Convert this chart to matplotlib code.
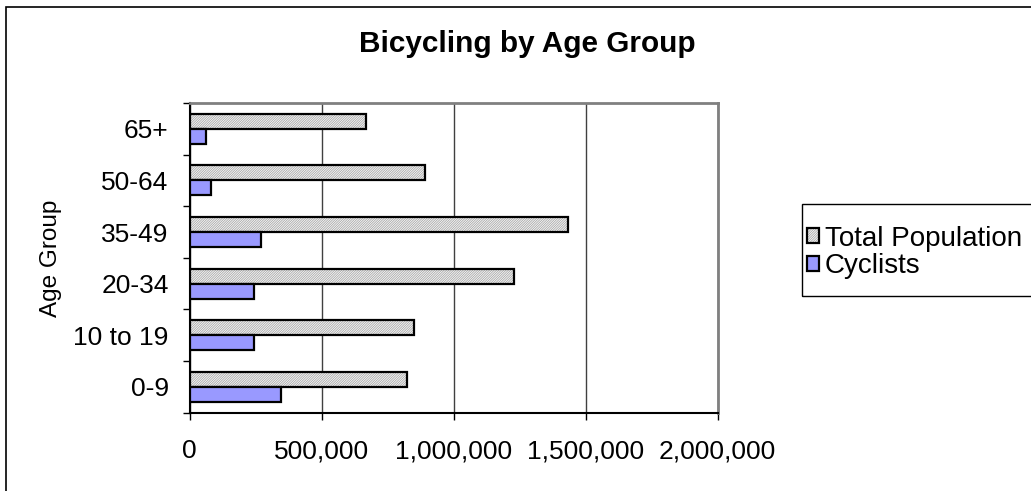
import numpy as np
import matplotlib
matplotlib.use('Agg')
from matplotlib import pyplot as plt
from matplotlib.patches import Rectangle
from matplotlib.ticker import FuncFormatter, FixedLocator
from matplotlib.legend_handler import HandlerTuple

plt.rcParams['font.family'] = ['Liberation Sans', 'DejaVu Sans']
plt.rcParams['hatch.linewidth'] = 0.5

# Data
age_groups = ['0-9', '10 to 19', '20-34', '35-49', '50-64', '65+']
total_population = [825000, 850000, 1227000, 1433000, 890000, 667000]
cyclists = [345000, 245000, 245000, 272000, 80000, 61000]
x_ticks = [0, 500000, 1000000, 1500000, 2000000]

fig = plt.figure(figsize=(10.31, 4.91), dpi=100)
ax = fig.add_axes([189.5 / 1031, 1 - 412.7 / 491, 528.2 / 1031, 309.7 / 491])

y = np.arange(len(age_groups))
h = 0.29

# hatched fill for total population, then black outline on top
hatch_bars = ax.barh(y + h / 2, total_population, height=h, color='#f4f4f4',
                     edgecolor='#a0a0a0', linewidth=0, hatch='/' * 14, zorder=3)
outline_bars = ax.barh(y + h / 2, total_population, height=h, fill=False,
                       edgecolor='black', linewidth=1.6, zorder=4)
cyc_bars = ax.barh(y - h / 2, cyclists, height=h, color='#9999ff',
                   edgecolor='black', linewidth=1.6, zorder=4)

ax.set_xlim(0, 2000000)
ax.set_ylim(-0.5, len(age_groups) - 0.5)

ax.xaxis.set_major_locator(FixedLocator(x_ticks))
ax.xaxis.set_major_formatter(FuncFormatter(lambda v, p: f'{int(v):,}'))
ax.tick_params(axis='x', direction='out', length=5, width=1, color='black',
               labelsize=19, pad=14)

# y ticks sit between categories, labels at centres
ax.yaxis.set_major_locator(FixedLocator(np.arange(-0.5, len(age_groups), 1.0)))
ax.yaxis.set_minor_locator(FixedLocator(y))
ax.set_yticklabels([], minor=False)
ax.set_yticklabels(age_groups, minor=True)
ax.tick_params(axis='y', which='major', direction='out', length=5, width=1)
ax.tick_params(axis='y', which='minor', length=0, labelsize=19, pad=15)

ax.set_ylabel('Age Group', fontsize=17.5)
ax.yaxis.set_label_coords(-0.242, 0.5)

ax.grid(axis='x', color='#404040', linewidth=1)
ax.set_axisbelow(True)

for s in ['left', 'bottom']:
    ax.spines[s].set_color('black')
    ax.spines[s].set_linewidth(1.5)
for s in ['top', 'right']:
    ax.spines[s].set_color('#808080')
    ax.spines[s].set_linewidth(2)

fig.text(527 / 1031, 1 - 52 / 491, 'Bicycling by Age Group', fontsize=21.4,
         fontweight='bold', ha='center', va='baseline')

leg = fig.legend([(hatch_bars, outline_bars), cyc_bars],
                 ['Total Population', 'Cyclists'],
                 handler_map={tuple: HandlerTuple(ndivide=1)},
                 loc='upper left', bbox_to_anchor=(801 / 1031, 1 - 220 / 491),
                 fontsize=20, frameon=False,
                 handlelength=0.45, handleheight=0.45, handletextpad=0.2,
                 borderpad=0.2, labelspacing=0.05, borderaxespad=0)

# legend frame, runs off the right edge like the original
fig.patches.append(Rectangle((801.7 / 1031, 1 - 296 / 491), 0.3, 92 / 491,
                             transform=fig.transFigure, fill=False,
                             edgecolor='black', linewidth=1))

# outer chart border, cut off at right and bottom like the original
fig.patches.append(Rectangle((6 / 1031, -0.05), 1.1, 1 - 7 / 491 + 0.05,
                             transform=fig.transFigure, fill=False,
                             edgecolor='black', linewidth=1.2))

fig.savefig('out.png', dpi=100)
